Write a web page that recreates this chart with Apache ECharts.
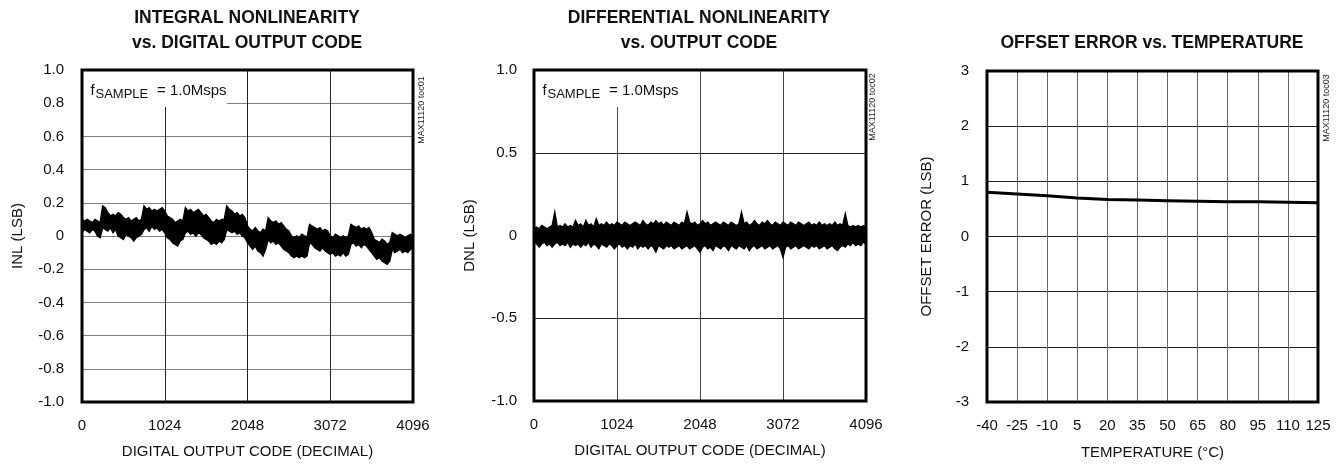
<!DOCTYPE html>
<html><head><meta charset="utf-8">
<script src="https://cdn.jsdelivr.net/npm/echarts@6/dist/echarts.min.js"></script>
<style>html,body{margin:0;padding:0;background:#fff}#c{width:1343px;height:466px}</style>
</head><body><div id="c"></div>
<script>
// ---- data ----
const codes = [0,32,64,96,128,160,192,224,256,288,320,352,384,416,448,480,
512,544,576,608,640,672,704,736,768,800,832,864,896,928,960,992,
1024,1056,1088,1120,1152,1184,1216,1248,1280,1312,1344,1376,1408,1440,1472,1504,
1536,1568,1600,1632,1664,1696,1728,1760,1792,1824,1856,1888,1920,1952,1984,2016,
2048,2080,2112,2144,2176,2208,2240,2272,2304,2336,2368,2400,2432,2464,2496,2528,
2560,2592,2624,2656,2688,2720,2752,2784,2816,2848,2880,2912,2944,2976,3008,3040,
3072,3104,3136,3168,3200,3232,3264,3296,3328,3360,3392,3424,3456,3488,3520,3552,
3584,3616,3648,3680,3712,3744,3776,3808,3840,3872,3904,3936,3968,4000,4032,4064,4096];

const inlUpper = [0.10,0.09,0.10,0.09,0.08,0.10,0.09,0.08,
0.18,0.17,0.14,0.12,0.13,0.12,0.14,0.13,
0.11,0.10,0.11,0.09,0.10,0.11,0.09,0.10,
0.18,0.16,0.17,0.15,0.16,0.15,0.16,0.17,
0.15,0.12,0.11,0.10,0.08,0.09,0.10,0.09,
0.17,0.15,0.16,0.14,0.15,0.16,0.14,0.12,
0.13,0.11,0.09,0.08,0.10,0.09,0.10,0.10,
0.18,0.16,0.15,0.13,0.14,0.12,0.13,0.11,
0.06,0.04,0.03,0.05,0.03,0.02,0.04,0.03,
0.11,0.09,0.08,0.09,0.07,0.08,0.06,0.04,
0.03,0.00,-0.01,0.00,-0.01,0.01,0.00,-0.01,
0.07,0.06,0.05,0.04,0.05,0.03,0.04,0.03,
0.00,-0.01,0.01,0.00,-0.01,0.00,-0.01,0.00,
0.07,0.06,0.05,0.06,0.04,0.05,0.04,0.05,
0.02,-0.02,-0.03,-0.04,-0.02,-0.03,-0.05,-0.04,
0.02,0.01,0.00,0.01,0.00,-0.01,0.00,0.01,0.00];

const inlLower = [0.02,0.04,0.03,0.02,0.04,0.03,0.00,-0.01,
0.05,0.04,0.03,0.05,0.02,0.04,0.00,-0.01,
-0.02,0.01,0.00,-0.01,-0.03,-0.01,0.00,0.01,
0.04,0.05,0.03,0.06,0.04,0.05,0.03,0.04,
0.02,-0.01,-0.02,-0.04,-0.05,-0.06,-0.03,-0.02,
0.02,0.03,0.01,0.02,0.00,0.02,0.01,-0.01,
-0.02,-0.03,-0.05,-0.04,-0.05,-0.03,-0.04,-0.02,
0.04,0.03,0.02,0.03,0.01,0.02,0.00,-0.01,
-0.04,-0.06,-0.08,-0.06,-0.09,-0.10,-0.12,-0.08,
-0.02,-0.04,-0.03,-0.05,-0.04,-0.06,-0.08,-0.09,
-0.10,-0.12,-0.13,-0.12,-0.13,-0.12,-0.13,-0.12,
-0.04,-0.05,-0.07,-0.08,-0.09,-0.07,-0.09,-0.10,
-0.11,-0.10,-0.12,-0.11,-0.12,-0.10,-0.12,-0.11,
-0.05,-0.04,-0.06,-0.05,-0.07,-0.05,-0.06,-0.08,
-0.10,-0.12,-0.14,-0.13,-0.15,-0.16,-0.17,-0.15,
-0.08,-0.10,-0.09,-0.08,-0.10,-0.09,-0.10,-0.08,-0.07];

const dnlUpper = [0.04,0.05,0.04,0.06,0.05,0.04,0.05,0.06,
0.14,0.05,0.06,0.05,0.07,0.05,0.06,0.05,
0.09,0.06,0.07,0.05,0.09,0.06,0.07,0.05,
0.10,0.06,0.07,0.06,0.08,0.06,0.07,0.06,
0.08,0.07,0.06,0.08,0.07,0.06,0.07,0.08,
0.07,0.06,0.09,0.07,0.06,0.08,0.07,0.09,
0.07,0.08,0.06,0.08,0.07,0.06,0.08,0.07,
0.06,0.08,0.07,0.14,0.08,0.07,0.08,0.06,
0.07,0.09,0.07,0.08,0.06,0.07,0.08,0.07,
0.06,0.08,0.07,0.06,0.08,0.07,0.06,0.07,
0.14,0.07,0.08,0.06,0.07,0.09,0.07,0.06,
0.08,0.07,0.09,0.07,0.06,0.08,0.07,0.06,
0.08,0.07,0.06,0.08,0.07,0.06,0.08,0.07,
0.06,0.07,0.08,0.06,0.07,0.06,0.08,0.06,
0.07,0.06,0.07,0.06,0.08,0.06,0.07,0.06,
0.13,0.06,0.05,0.06,0.05,0.06,0.05,0.06,0.05];

const dnlLower = [-0.03,-0.05,-0.07,-0.05,-0.04,-0.06,-0.05,-0.07,
-0.05,-0.04,-0.06,-0.05,-0.06,-0.04,-0.07,-0.05,
-0.06,-0.05,-0.07,-0.05,-0.06,-0.04,-0.07,-0.05,
-0.06,-0.08,-0.05,-0.06,-0.07,-0.05,-0.06,-0.08,
-0.06,-0.05,-0.07,-0.06,-0.08,-0.06,-0.07,-0.05,
-0.08,-0.06,-0.07,-0.06,-0.08,-0.06,-0.07,-0.10,
-0.06,-0.07,-0.08,-0.06,-0.07,-0.06,-0.08,-0.07,
-0.06,-0.08,-0.07,-0.06,-0.08,-0.07,-0.06,-0.08,
-0.10,-0.07,-0.06,-0.08,-0.07,-0.09,-0.06,-0.07,
-0.08,-0.06,-0.07,-0.09,-0.06,-0.07,-0.08,-0.06,
-0.07,-0.08,-0.06,-0.09,-0.07,-0.06,-0.08,-0.07,
-0.06,-0.08,-0.07,-0.06,-0.08,-0.07,-0.06,-0.08,
-0.13,-0.07,-0.06,-0.08,-0.07,-0.06,-0.08,-0.07,
-0.06,-0.07,-0.08,-0.06,-0.07,-0.06,-0.08,-0.07,
-0.06,-0.08,-0.07,-0.06,-0.08,-0.09,-0.07,-0.06,
-0.07,-0.05,-0.06,-0.04,-0.06,-0.05,-0.06,-0.04,-0.05];

const temps = ['-40','-25','-10','5','20','35','50','65','80','95','110','125'];
const offsetErr = [0.80,0.77,0.74,0.70,0.67,0.66,0.65,0.64,0.63,0.63,0.62,0.61];

const codeTicks = {min:0, max:4096, interval:1024};

// ---- styling ----
const FONT = "'Liberation Sans',Arial,sans-serif";
const FS = 15;
const G = [
  {left:82, top:70, width:331, height:332},
  {left:534, top:70, width:332, height:331},
  {left:987, top:71, width:331, height:331}
];
const fmt1 = v => Math.abs(v) < 1e-9 ? '0' : v.toFixed(1);
const fmtInt = v => String(Math.round(v));
const lbl = (margin, extra) => Object.assign({fontFamily:FONT, fontSize:FS, color:'#111', margin:margin}, extra||{});
const nameStyle = {fontFamily:FONT, fontSize:FS, color:'#111'};

function bandItem(upper, lower) {
  return function(params, api) {
    const pts = [];
    for (let i = 0; i < codes.length; i++) pts.push(api.coord([codes[i], upper[i]]));
    for (let i = codes.length - 1; i >= 0; i--) pts.push(api.coord([codes[i], lower[i]]));
    return {type:'polygon', shape:{points:pts}, style:{fill:'#000', stroke:'#000', lineWidth:1.5, lineJoin:'miter'}};
  };
}

const chart = echarts.init(document.getElementById('c'), null, {renderer:'canvas'});

const graphics = [];
// titles
const titleFont = 'bold 17.5px ' + FONT;
[[247,18,'INTEGRAL NONLINEARITY'],[247,43,'vs. DIGITAL OUTPUT CODE'],
 [699,18,'DIFFERENTIAL NONLINEARITY'],[699,43,'vs. OUTPUT CODE'],
 [1152,43,'OFFSET ERROR vs. TEMPERATURE']].forEach(t => {
  graphics.push({type:'text', x:t[0], y:t[1], z:30, style:{text:t[2], font:titleFont, fill:'#111', align:'center', verticalAlign:'middle'}});
});
// side codes
[[422,110,'MAX11120 toc01'],[873,107,'MAX11120 toc02'],[1327,108,'MAX11120 toc03']].forEach(t => {
  graphics.push({type:'text', x:t[0], y:t[1], rotation:Math.PI/2, z:30, style:{text:t[2], font:'9px ' + FONT, fill:'#222', align:'center', verticalAlign:'middle'}});
});
// annotation boxes + text
[[G[0], 227, 107],[G[1], 680, 107]].forEach(a => {
  const g = a[0];
  graphics.push({type:'rect', z:10, shape:{x:g.left, y:g.top, width:a[1]-g.left, height:a[2]-g.top}, style:{fill:'#fff'}});
  graphics.push({type:'text', z:11, x:g.left+8.5, y:83, style:{text:'f', font:'15px ' + FONT, fill:'#111', verticalAlign:'top'}});
  graphics.push({type:'text', z:11, x:g.left+13.5, y:88, style:{text:'SAMPLE', font:'13px ' + FONT, fill:'#111', verticalAlign:'top'}});
  graphics.push({type:'text', z:11, x:g.left+75, y:83, style:{text:'= 1.0Msps', font:'15px ' + FONT, fill:'#111', verticalAlign:'top'}});
});
// borders
G.forEach(g => {
  graphics.push({type:'rect', z:20, shape:{x:g.left, y:g.top, width:g.width, height:g.height}, style:{fill:null, stroke:'#000', lineWidth:3}});
});

const option = {
  backgroundColor:'#fff',
  animation:false,
  grid: G.map(g => Object.assign({containLabel:false}, g)),
  xAxis: [
    Object.assign({type:'value', gridIndex:0, name:'DIGITAL OUTPUT CODE (DECIMAL)', nameLocation:'middle', nameGap:42, nameTextStyle:nameStyle,
      axisLine:{show:false}, axisTick:{show:false}, axisLabel:lbl(16, {formatter:fmtInt}), splitLine:{show:true, lineStyle:{color:'#222', width:1}}}, codeTicks),
    Object.assign({type:'value', gridIndex:1, name:'DIGITAL OUTPUT CODE (DECIMAL)', nameLocation:'middle', nameGap:42, nameTextStyle:nameStyle,
      axisLine:{show:false}, axisTick:{show:false}, axisLabel:lbl(16, {formatter:fmtInt}), splitLine:{show:true, lineStyle:{color:'#444', width:1}}}, codeTicks),
    {type:'category', gridIndex:2, data:temps, boundaryGap:false, name:'TEMPERATURE (°C)', nameLocation:'middle', nameGap:43, nameTextStyle:nameStyle,
      axisLine:{show:false}, axisTick:{show:false}, axisLabel:lbl(16, {interval:0}), splitLine:{show:true, interval:0, lineStyle:{color:'#666', width:1}}}
  ],
  yAxis: [
    {type:'value', gridIndex:0, min:-1, max:1, interval:0.2, name:'INL (LSB)', nameLocation:'middle', nameGap:57, nameTextStyle:nameStyle,
      axisLine:{show:false}, axisTick:{show:false}, axisLabel:lbl(18, {formatter:fmt1}), splitLine:{show:true, lineStyle:{color:'#808080', width:1}}},
    {type:'value', gridIndex:1, min:-1, max:1, interval:0.5, name:'DNL (LSB)', nameLocation:'middle', nameGap:57, nameTextStyle:nameStyle,
      axisLine:{show:false}, axisTick:{show:false}, axisLabel:lbl(17, {formatter:fmt1}), splitLine:{show:true, lineStyle:{color:'#222', width:1}}},
    {type:'value', gridIndex:2, min:-3, max:3, interval:1, name:'OFFSET ERROR (LSB)', nameLocation:'middle', nameGap:53, nameTextStyle:nameStyle,
      axisLine:{show:false}, axisTick:{show:false}, axisLabel:lbl(18), splitLine:{show:true, lineStyle:{color:'#222', width:1}}}
  ],
  series: [
    {type:'custom', xAxisIndex:0, yAxisIndex:0, data:[[0,0]], renderItem:bandItem(inlUpper, inlLower), clip:true, silent:true},
    {type:'custom', xAxisIndex:1, yAxisIndex:1, data:[[0,0]], renderItem:bandItem(dnlUpper, dnlLower), clip:true, silent:true},
    {type:'line', xAxisIndex:2, yAxisIndex:2, data:offsetErr, symbol:'none', lineStyle:{color:'#000', width:3}, silent:true}
  ],
  graphic: graphics
};
chart.setOption(option);
</script>
</body></html>
